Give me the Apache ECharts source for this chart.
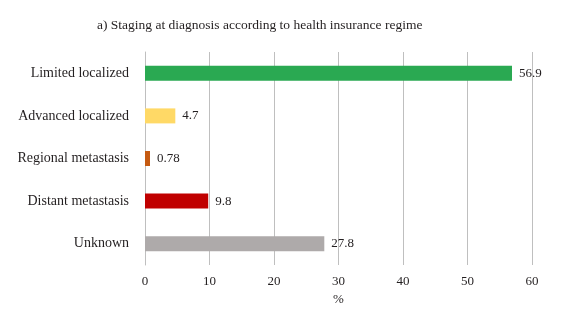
<!DOCTYPE html>
<html>
<head>
<meta charset="utf-8">
<script src="https://cdn.jsdelivr.net/npm/echarts@6/dist/echarts.min.js"></script>
<style>
  html, body { margin: 0; padding: 0; background: #fff; }
  #chart { width: 567px; height: 318px; }
</style>
</head>
<body>
<div id="chart"></div>
<script>
// data
var categories = ['Limited localized', 'Advanced localized', 'Regional metastasis', 'Distant metastasis', 'Unknown'];
var values = [56.9, 4.7, 0.78, 9.8, 27.8];
var barColors = ['#2aa952', '#ffd966', '#c55a11', '#c00000', '#aeaaaa'];
var xTicks = [0, 10, 20, 30, 40, 50, 60];

var font = '"Liberation Serif", "DejaVu Serif", serif';
var textColor = '#231f20';

var chart = echarts.init(document.getElementById('chart'));

var barData = [];
for (var i = 0; i < values.length; i++) {
  barData.push({ value: values[i], itemStyle: { color: barColors[i] } });
}

var option = {
  backgroundColor: '#ffffff',
  animation: false,
  title: {
    text: 'a) Staging at diagnosis according to health insurance regime',
    left: 92,
    top: 13,
    textStyle: { fontFamily: font, fontSize: 13.5, fontWeight: 'normal', color: textColor }
  },
  grid: { left: 145, right: 35, top: 52, bottom: 53 },
  xAxis: {
    type: 'value',
    min: xTicks[0],
    max: xTicks[xTicks.length - 1],
    interval: 10,
    name: '%',
    nameLocation: 'middle',
    nameGap: 27,
    nameTextStyle: { fontFamily: font, fontSize: 13, color: textColor },
    axisLine: { show: false },
    axisTick: { show: false },
    axisLabel: { fontFamily: font, fontSize: 13, color: textColor, margin: 10 },
    splitLine: { show: true, lineStyle: { color: '#bfbfbf', width: 1 } }
  },
  yAxis: {
    type: 'category',
    data: categories,
    inverse: true,
    axisLine: { show: true, lineStyle: { color: '#bfbfbf', width: 1 } },
    axisTick: { show: false },
    axisLabel: { fontFamily: font, fontSize: 14, color: textColor, margin: 16 }
  },
  series: [{
    type: 'bar',
    data: barData,
    barWidth: 15,
    label: {
      show: true,
      position: 'right',
      distance: 7,
      fontFamily: font,
      fontSize: 13,
      color: textColor
    }
  }]
};

chart.setOption(option);
</script>
</body>
</html>
